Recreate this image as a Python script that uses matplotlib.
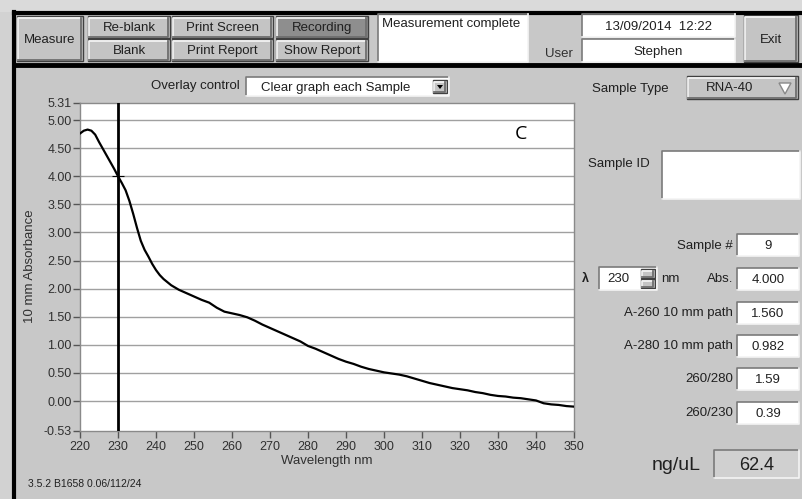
import matplotlib
matplotlib.use("Agg")
import matplotlib.pyplot as plt
from matplotlib.patches import Rectangle, Polygon

plt.rcParams['font.family'] = ['Liberation Sans', 'DejaVu Sans']

# absorbance spectrum, 10 mm path
wavelength = [220, 221, 222, 223, 224, 225, 226, 227, 228, 229, 230, 231, 232, 233, 234,
              235, 236, 237, 238, 239, 240, 241, 242, 244, 246, 248, 250, 252, 254, 256,
              258, 260, 262, 264, 266, 268, 270, 272, 274, 276, 278, 280, 282, 284, 286,
              288, 290, 292, 294, 296, 298, 300, 302, 304, 306, 308, 310, 312, 314, 316,
              318, 320, 322, 324, 326, 328, 330, 332, 334, 336, 338, 340, 342, 344, 346,
              348, 350]
absorbance = [4.76, 4.81, 4.83, 4.81, 4.74, 4.61, 4.49, 4.37, 4.25, 4.13, 4.00, 3.88, 3.75, 3.56, 3.33,
              3.08, 2.85, 2.69, 2.57, 2.44, 2.33, 2.24, 2.17, 2.06, 1.98, 1.92, 1.86, 1.80, 1.75, 1.66,
              1.59, 1.56, 1.53, 1.49, 1.43, 1.36, 1.30, 1.24, 1.18, 1.12, 1.06, 0.98, 0.93, 0.87, 0.81,
              0.75, 0.70, 0.66, 0.61, 0.57, 0.54, 0.51, 0.49, 0.47, 0.44, 0.40, 0.36, 0.32, 0.29, 0.26,
              0.23, 0.21, 0.19, 0.16, 0.14, 0.11, 0.09, 0.08, 0.06, 0.05, 0.03, 0.01, -0.04, -0.06, -0.07,
              -0.09, -0.10]

cursor_nm = 230
cursor_abs = 4.000
y_ticks = [-0.53, 0.0, 0.5, 1.0, 1.5, 2.0, 2.5, 3.0, 3.5, 4.0, 4.5, 5.0, 5.31]
x_ticks = list(range(220, 351, 10))

top_buttons = [("Re-blank", 88, 16), ("Blank", 88, 39), ("Print Screen", 172, 16),
               ("Print Report", 172, 39), ("Recording", 276, 16), ("Show Report", 276, 39)]
button_widths = {88: 82, 172: 101, 276: 92}

result_labels = ["A-260 10 mm path", "A-280 10 mm path", "260/280", "260/230"]
result_values = ["1.560", "0.982", "1.59", "0.39"]
result_rows = [302, 335, 368, 402]
concentration = "62.4"

GRAY = '#c8c8c8'

fig = plt.figure(figsize=(8.03, 4.99), dpi=100, facecolor=GRAY)
bg = fig.add_axes([0, 0, 1, 1])
bg.set_xlim(0, 803)
bg.set_ylim(499, 0)
bg.axis('off')
bg.set_facecolor(GRAY)


def raised(x, y, w, h, label, face='#c4c4c4', fs=9.5):
    bg.add_patch(Rectangle((x, y), w, h, facecolor=face, edgecolor='#404040', lw=1))
    bg.plot([x + 1.5, x + 1.5, x + w - 1.5], [y + h - 1.5, y + 1.5, y + 1.5], color='#f2f2f2', lw=1.3)
    bg.plot([x + 1.5, x + w - 1.5, x + w - 1.5], [y + h - 1.5, y + h - 1.5, y + 1.5], color='#6e6e6e', lw=1.3)
    if label:
        bg.text(x + w / 2, y + h / 2 + 1, label, ha='center', va='center', fontsize=fs, color='#202020')


def sunken(x, y, w, h, label='', face='white', fs=9.5, pad=None):
    bg.add_patch(Rectangle((x, y), w, h, facecolor=face, edgecolor='none'))
    bg.plot([x, x, x + w], [y + h, y, y], color='#7a7a7a', lw=1.2)
    bg.plot([x, x + w, x + w], [y + h, y + h, y], color='#f4f4f4', lw=1.2)
    if label:
        if pad is None:
            bg.text(x + w / 2, y + h / 2 + 1, label, ha='center', va='center', fontsize=fs, color='#202020')
        else:
            bg.text(x + pad, y + h / 2 + 1, label, ha='left', va='center', fontsize=fs, color='#202020')


# window frame and toolbar
bg.add_patch(Rectangle((0, 0), 803, 12, facecolor='#dadada', edgecolor='none'))
bg.add_patch(Rectangle((0, 12), 14, 487, facecolor='#d2d2d2', edgecolor='none'))
bg.plot([14, 803], [13, 13], color='black', lw=3)
bg.plot([14, 803], [65, 65], color='black', lw=3.5)
bg.plot([14.5, 14.5], [12, 499], color='black', lw=3)

raised(17, 16, 66, 45, "Measure")
for label, x, y in top_buttons:
    face = '#8e8e8e' if label == "Recording" else '#c4c4c4'
    raised(x, y, button_widths[x], 22, label, face=face)

sunken(378, 14, 150, 48)
bg.text(382, 24, "Measurement complete", ha='left', va='center', fontsize=9.5, color='#202020')
sunken(582, 14, 153, 23, "13/09/2014  12:22")
sunken(582, 39, 153, 23, "Stephen")
bg.text(545, 54, "User", ha='left', va='center', fontsize=9.5, color='#303030')
raised(744, 15, 54, 47, "Exit")

# overlay selector
bg.text(240, 86, "Overlay control", ha='right', va='center', fontsize=9.5, color='#202020')
sunken(246, 77, 203, 19, "Clear graph each Sample", pad=15)
raised(433, 80, 14, 13, None)
bg.add_patch(Polygon([[437, 85], [443, 85], [440, 89]], closed=True, facecolor='black'))

# right panel
bg.text(592, 89, "Sample Type", ha='left', va='center', fontsize=9.5, color='#202020')
raised(687, 76, 111, 23, None)
bg.text(730, 88, "RNA-40", ha='center', va='center', fontsize=9.5, color='#202020')
bg.add_patch(Polygon([[779, 83], [791, 83], [785, 94]], closed=True, facecolor='white', edgecolor='#888888'))
bg.text(588, 164, "Sample ID", ha='left', va='center', fontsize=9.5, color='#202020')
sunken(662, 151, 138, 48)

bg.text(733, 246, "Sample #", ha='right', va='center', fontsize=9.5, color='#202020')
sunken(737, 234, 62, 22, "9")
bg.text(585, 279, "λ", ha='center', va='center', fontsize=9, fontweight='bold', color='#202020')
sunken(599, 267, 58, 23, "230", pad=8)
raised(641, 269, 14, 9, None)
raised(641, 279, 14, 9, None)
bg.text(661, 279, "nm", ha='left', va='center', fontsize=9.5, color='#202020')
bg.text(733, 279, "Abs.", ha='right', va='center', fontsize=9.5, color='#202020')
sunken(737, 268, 62, 22, f"{cursor_abs:.3f}")

for label, value, row in zip(result_labels, result_values, result_rows):
    bg.text(733, row + 11, label, ha='right', va='center', fontsize=9.5, color='#202020')
    sunken(737, row, 62, 22, value)

bg.text(676, 465, "ng/uL", ha='center', va='center', fontsize=14, color='#202020')
sunken(714, 450, 85, 28, concentration, face='#d0d0d0', fs=13)

bg.text(28, 484, "3.5.2 B1658 0.06/112/24", ha='left', va='center', fontsize=7.5, color='#202020')
bg.text(30, 266, "10 mm Absorbance", ha='center', va='center', rotation=90, fontsize=9.5, color='#303030')

# spectrum plot
ax = fig.add_axes([80 / 803, (499 - 430.8) / 499, 494 / 803, 328.2 / 499])
ax.set_facecolor('white')
ax.plot(wavelength, absorbance, color='black', lw=1.6, zorder=3)
ax.axvline(cursor_nm, color='black', lw=2, zorder=4)
ax.plot([cursor_nm], [cursor_abs], marker='+', ms=9, mew=0.8, color='black', zorder=5)
ax.set_xlim(220, 350)
ax.set_ylim(-0.53, 5.31)
ax.set_xticks(x_ticks)
ax.set_yticks(y_ticks)
ax.set_yticklabels([f"{v:.2f}" for v in y_ticks])
ax.tick_params(axis='both', direction='out', length=5, width=1, color='#555555',
               labelsize=9, labelcolor='#303030', pad=1)
ax.tick_params(axis='x', pad=2)
for v in y_ticks[1:-1]:
    ax.axhline(v, color='#a0a0a0', lw=1, zorder=1)
for s in ax.spines.values():
    s.set_color('#8a8a8a')
    s.set_linewidth(1)
ax.set_xlabel("Wavelength nm", fontsize=9.5, color='#303030', labelpad=2)
ax.text(336, 4.75, "C", fontsize=14, ha='center', va='center', family=['Open Sans', 'DejaVu Sans'])

fig.savefig("out.png", dpi=100, facecolor=GRAY)
